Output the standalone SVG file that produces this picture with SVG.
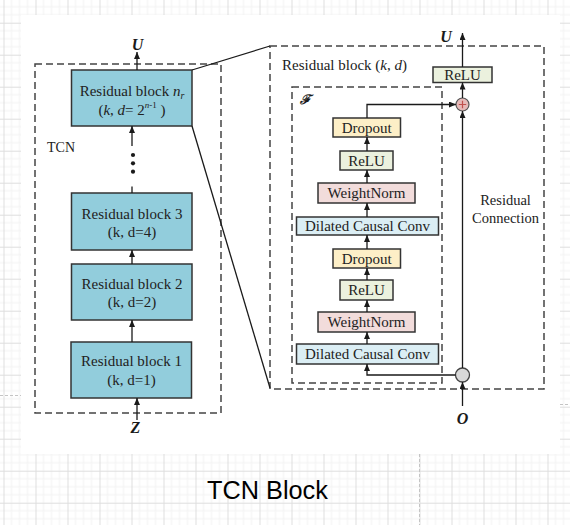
<svg xmlns="http://www.w3.org/2000/svg" width="570" height="525" viewBox="0 0 570 525">
<defs>
<pattern id="grid" patternUnits="userSpaceOnUse" x="3.5" y="22.7" width="32" height="32">
<path d="M8,0V32M16,0V32M24,0V32M0,8H32M0,16H32M0,24H32" stroke="#f2f2f2" stroke-width="1" fill="none"/>
<path d="M0.5,0V32M0,0.5H32" stroke="#dedede" stroke-width="1" fill="none"/>
</pattern>
<marker id="ah" markerUnits="userSpaceOnUse" markerWidth="8" markerHeight="8" refX="7" refY="3" orient="auto">
<path d="M0,0L7,3L0,6z" fill="#1a1a1a"/>
</marker>
<style>
.t{font-family:"Liberation Serif","Times New Roman",serif;font-size:15px;fill:#222}
.c{text-anchor:middle}
.bi{font-family:"Liberation Serif","Times New Roman",serif;font-weight:bold;font-style:italic;fill:#1a1a1a}
.blk{fill:#92cddc;stroke:#333;stroke-width:1.5}
.dash{fill:none;stroke:#444;stroke-width:1.5;stroke-dasharray:7 4}
.drop{fill:#fdefc7;stroke:#333;stroke-width:1.5}
.relu{fill:#ebf1de;stroke:#333;stroke-width:1.5}
.wn{fill:#f2dcdb;stroke:#333;stroke-width:1.5}
.dcc{fill:#dbeef4;stroke:#333;stroke-width:1.5}
.ln{fill:none;stroke:#1a1a1a;stroke-width:1.3}
.guide{stroke:#c4c4c4;stroke-width:1;stroke-dasharray:3 2}
</style>
</defs>
<rect x="0" y="0" width="570" height="525" fill="#fff"/>
<rect x="0" y="0" width="570" height="525" fill="url(#grid)"/>
<rect x="21" y="15" width="539" height="439" fill="#fff"/>
<line class="guide" x1="419.5" y1="454" x2="419.5" y2="525"/>
<line class="guide" x1="0" y1="395.5" x2="21" y2="395.5"/>
<line class="guide" x1="560" y1="404.5" x2="570" y2="404.5"/>

<g id="tcn-frame">
<rect class="dash" x="35" y="64" width="186" height="349"/>
<text class="t" x="47" y="152" style="font-size:14px">TCN</text>
</g>
<g id="residual-frame">
<rect class="dash" x="270" y="46" width="274" height="343"/>
<text class="t" x="282" y="70">Residual block (<tspan font-style="italic">k</tspan>, <tspan font-style="italic">d</tspan>)</text>
<text class="t c" x="505.5" y="205" style="font-size:14.5px">Residual</text>
<text class="t c" x="505.5" y="222.5" style="font-size:14.5px">Connection</text>
</g>
<g id="f-frame">
<rect class="dash" x="292" y="87" width="150" height="296"/>
<text class="bi" x="300" y="103.5" style="font-size:13px">ℱ</text>
</g>

<g id="block-nr">
<rect class="blk" x="71.5" y="70" width="120.5" height="56"/>
<text class="t c" x="132" y="96">Residual block <tspan font-style="italic">n</tspan><tspan font-style="italic" font-size="10" dy="3">r</tspan></text>
<text class="t c" x="132" y="115">(<tspan font-style="italic">k</tspan>, <tspan font-style="italic">d</tspan>= 2<tspan font-size="9" dy="-7"><tspan font-style="italic">n</tspan>-1</tspan><tspan dy="7"> )</tspan></text>
</g>
<g id="block-3">
<rect class="blk" x="71.5" y="193" width="120.5" height="57"/>
<text class="t c" x="132" y="218.5">Residual block 3</text>
<text class="t c" x="132" y="237">(k, d=4)</text>
</g>
<g id="block-2">
<rect class="blk" x="71.5" y="264" width="120.5" height="56"/>
<text class="t c" x="132" y="288.5">Residual block 2</text>
<text class="t c" x="132" y="306.5">(k, d=2)</text>
</g>
<g id="block-1">
<rect class="blk" x="71" y="342" width="120.5" height="56"/>
<text class="t c" x="131.5" y="366">Residual block 1</text>
<text class="t c" x="131.5" y="385">(k, d=1)</text>
</g>
<g id="dots">
<circle cx="133" cy="155" r="2.1" fill="#1a1a1a"/>
<circle cx="133" cy="163.3" r="2.1" fill="#1a1a1a"/>
<circle cx="133" cy="171.7" r="2.1" fill="#1a1a1a"/>
</g>
<g id="label-u-left"><text class="bi c" x="137.5" y="50" style="font-size:16px">U</text></g>
<g id="label-z"><text class="bi c" x="135.5" y="433" style="font-size:16px">Z</text></g>

<g id="relu-out">
<rect class="relu" x="433" y="67" width="59" height="15.5"/>
<text class="t c" x="462.5" y="80">ReLU</text>
</g>
<g id="plus">
<circle cx="462.5" cy="104.5" r="6.5" fill="#e6b9b8" stroke="#555" stroke-width="1.2"/>
<path d="M458.8,104.5H466.2M462.5,100.8V108.2" stroke="#c0504d" stroke-width="1.2"/>
</g>
<g id="dropout-1">
<rect class="drop" x="333" y="118" width="67.5" height="19"/>
<text class="t c" x="366.7" y="132.5">Dropout</text>
</g>
<g id="relu-1">
<rect class="relu" x="340" y="151" width="53" height="19"/>
<text class="t c" x="366.5" y="165.5">ReLU</text>
</g>
<g id="weightnorm-1">
<rect class="wn" x="318" y="183" width="97" height="20"/>
<text class="t c" x="366.5" y="198">WeightNorm</text>
</g>
<g id="dcc-1">
<rect class="dcc" x="296.5" y="217" width="142" height="18"/>
<text class="t c" x="367.5" y="231">Dilated Causal Conv</text>
</g>
<g id="dropout-2">
<rect class="drop" x="333" y="249" width="67.5" height="19"/>
<text class="t c" x="366.7" y="263.5">Dropout</text>
</g>
<g id="relu-2">
<rect class="relu" x="340" y="280" width="53" height="20"/>
<text class="t c" x="366.5" y="295">ReLU</text>
</g>
<g id="weightnorm-2">
<rect class="wn" x="318" y="312" width="97" height="20"/>
<text class="t c" x="366.5" y="327">WeightNorm</text>
</g>
<g id="dcc-2">
<rect class="dcc" x="296.5" y="344" width="142" height="20"/>
<text class="t c" x="367.5" y="359">Dilated Causal Conv</text>
</g>
<g id="split">
<circle cx="462.5" cy="375" r="7" fill="#d9d9d9" stroke="#444" stroke-width="1.3"/>
</g>
<g id="label-u-right"><text class="bi c" x="446" y="42" style="font-size:16px">U</text></g>
<g id="label-o"><text class="bi c" x="462.5" y="423.5" style="font-size:16px">O</text></g>

<g id="connectors">
<line class="ln" x1="192" y1="70" x2="270" y2="46"/>
<line class="ln" x1="192" y1="126" x2="270" y2="388"/>
<line class="ln" x1="137" y1="70" x2="137" y2="52" marker-end="url(#ah)"/>
<line class="ln" x1="132" y1="146" x2="132" y2="126" marker-end="url(#ah)"/>
<line class="ln" x1="132" y1="193" x2="132" y2="186.5"/>
<line class="ln" x1="132" y1="264" x2="132" y2="250" marker-end="url(#ah)"/>
<line class="ln" x1="132" y1="342" x2="132" y2="320" marker-end="url(#ah)"/>
<line class="ln" x1="137" y1="420" x2="137" y2="398" marker-end="url(#ah)"/>

<line class="ln" x1="462.5" y1="67" x2="462.5" y2="33" marker-end="url(#ah)"/>
<line class="ln" x1="462.5" y1="98" x2="462.5" y2="82.5" marker-end="url(#ah)"/>
<line class="ln" x1="462.5" y1="368" x2="462.5" y2="111" marker-end="url(#ah)"/>
<polyline class="ln" points="367,118 367,104.5 456,104.5" marker-end="url(#ah)"/>
<line class="ln" x1="367" y1="151" x2="367" y2="137" marker-end="url(#ah)"/>
<line class="ln" x1="367" y1="183" x2="367" y2="170" marker-end="url(#ah)"/>
<line class="ln" x1="367" y1="217" x2="367" y2="203" marker-end="url(#ah)"/>
<line class="ln" x1="367" y1="249" x2="367" y2="235" marker-end="url(#ah)"/>
<line class="ln" x1="367" y1="280" x2="367" y2="268" marker-end="url(#ah)"/>
<line class="ln" x1="367" y1="312" x2="367" y2="300" marker-end="url(#ah)"/>
<line class="ln" x1="367" y1="344" x2="367" y2="332" marker-end="url(#ah)"/>
<polyline class="ln" points="455.5,375 367,375 367,364" marker-end="url(#ah)"/>
<line class="ln" x1="462.5" y1="406" x2="462.5" y2="382" marker-end="url(#ah)"/>
</g>

<g id="caption">
<text x="207" y="499" style="font-family:'Liberation Sans',Arial,sans-serif;font-size:25.3px;fill:#000">TCN Block</text>
</g>
</svg>
